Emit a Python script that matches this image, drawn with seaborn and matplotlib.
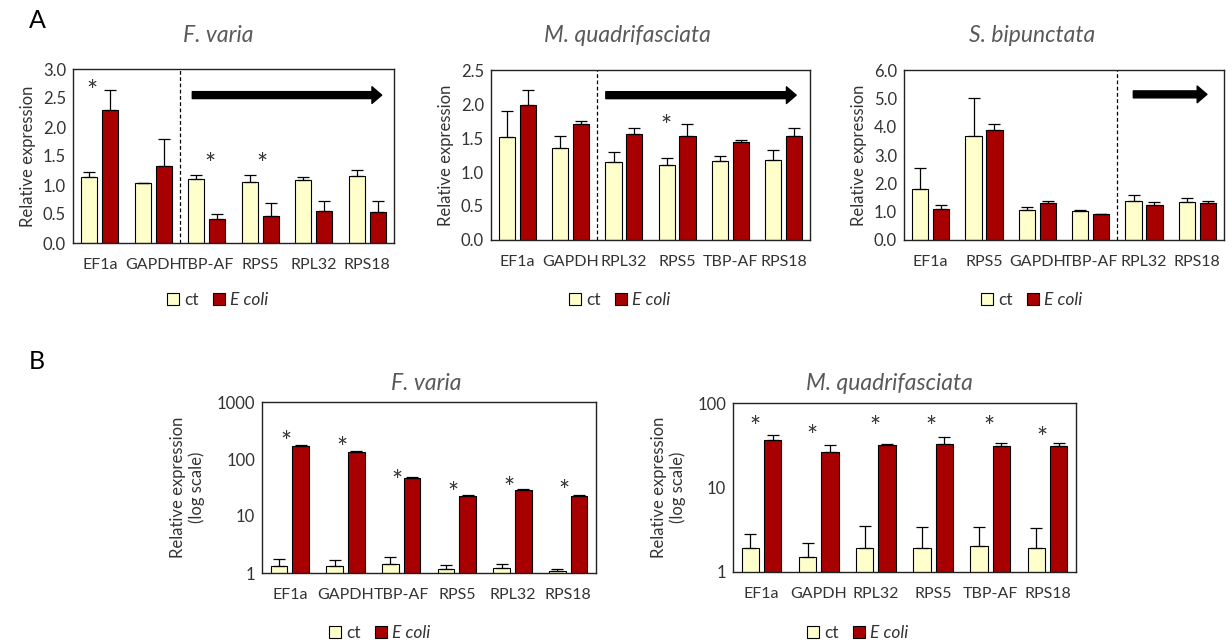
#importing libraries
import numpy as np
import pandas as pd
import seaborn as sns
import matplotlib.pyplot as plt
from matplotlib.patches import Patch

sns.set_style("white")
plt.rcParams['font.family'] = ['Lato', 'DejaVu Sans']

#colours of the two groups
CT_COLOR = "#FFFFCC"
EC_COLOR = "#A80000"
TXT = "#333333"
TITLE = "#595959"

#---------------- data ----------------
#panel A, F. varia
A1_genes = ["EF1a", "GAPDH", "TBP-AF", "RPS5", "RPL32", "RPS18"]
A1_ct = [1.13, 1.03, 1.11, 1.05, 1.09, 1.15]
A1_ct_err = [0.09, 0.0, 0.07, 0.13, 0.05, 0.11]
A1_ec = [2.29, 1.33, 0.42, 0.46, 0.55, 0.53]
A1_ec_err = [0.34, 0.46, 0.08, 0.23, 0.18, 0.20]
A1_star_genes = ["EF1a", "TBP-AF", "RPS5"]
A1_star_y = [2.71, 1.45, 1.45]

#panel A, M. quadrifasciata
A2_genes = ["EF1a", "GAPDH", "RPL32", "RPS5", "TBP-AF", "RPS18"]
A2_ct = [1.51, 1.35, 1.15, 1.11, 1.16, 1.18]
A2_ct_err = [0.39, 0.18, 0.14, 0.09, 0.08, 0.15]
A2_ec = [1.98, 1.71, 1.56, 1.53, 1.44, 1.53]
A2_ec_err = [0.22, 0.04, 0.09, 0.17, 0.03, 0.11]
A2_star_genes = ["RPS5"]
A2_star_y = [1.76]

#panel A, S. bipunctata
A3_genes = ["EF1a", "RPS5", "GAPDH", "TBP-AF", "RPL32", "RPS18"]
A3_ct = [1.81, 3.66, 1.07, 1.03, 1.37, 1.33]
A3_ct_err = [0.74, 1.35, 0.09, 0.03, 0.22, 0.17]
A3_ec = [1.11, 3.87, 1.29, 0.91, 1.24, 1.29]
A3_ec_err = [0.14, 0.23, 0.08, 0.02, 0.09, 0.09]

#panel B, F. varia (log scale)
B1_genes = ["EF1a", "GAPDH", "TBP-AF", "RPS5", "RPL32", "RPS18"]
B1_ct = [1.31, 1.31, 1.46, 1.18, 1.24, 1.08]
B1_ct_err = [0.43, 0.36, 0.47, 0.18, 0.20, 0.08]
B1_ec = [171, 134, 47, 22.7, 29, 22.7]
B1_ec_err = [2, 2, 1, 0.3, 0.5, 0.3]
B1_star_genes = B1_genes
B1_star_y = [250, 196, 51, 31, 38, 34.6]

#panel B, M. quadrifasciata (log scale)
B2_genes = ["EF1a", "GAPDH", "RPL32", "RPS5", "TBP-AF", "RPS18"]
B2_ct = [1.94, 1.49, 1.94, 1.94, 2.01, 1.94]
B2_ct_err = [0.88, 0.74, 1.60, 1.51, 1.44, 1.35]
B2_ec = [36.4, 26.2, 32.0, 32.9, 31.2, 31.2]
B2_ec_err = [5.4, 5.8, 0.9, 6.3, 2.3, 2.3]
B2_star_genes = B2_genes
B2_star_y = [60.6, 47.4, 60.6, 60.6, 60.6, 44.9]

W, H = 1232, 642


def px_axes(fig, left, top, right, bottom):
    #axes placed by pixel box
    return fig.add_axes([left / W, 1 - bottom / H, (right - left) / W, (bottom - top) / H])


def draw_panel(ax, genes, ct, ct_err, ec, ec_err, log=False):
    df = pd.DataFrame({
        "gene": genes * 2,
        "group": ["ct"] * len(genes) + ["E coli"] * len(genes),
        "value": list(ct) + list(ec),
    })
    if log:
        ax.set_yscale("log")
    sns.barplot(data=df, x="gene", y="value", hue="group", order=genes,
                hue_order=["ct", "E coli"], palette=[CT_COLOR, EC_COLOR], saturation=1,
                width=0.78, gap=0.22, edgecolor="black", linewidth=0.8,
                errorbar=None, legend=False, ax=ax)
    #error bars, upper side only
    for cont, errs in zip(ax.containers, [ct_err, ec_err]):
        xs = [b.get_x() + b.get_width() / 2 for b in cont]
        ys = [b.get_height() for b in cont]
        ax.errorbar(xs, ys, yerr=[np.zeros(len(errs)), errs], fmt="none",
                    ecolor="black", elinewidth=0.9, capsize=4, capthick=0.9, zorder=3)
    ax.set_xlim(-0.5, len(genes) - 0.5)
    ax.set_xlabel("")
    ax.tick_params(axis="both", length=0, labelsize=12, labelcolor=TXT, pad=5)
    ax.tick_params(axis="x", labelsize=11.5, pad=11)
    for s in ax.spines.values():
        s.set_visible(True)
        s.set_color("#222222")
        s.set_linewidth(1.0)


def add_stars(ax, genes, star_genes, star_y, dx):
    dxs = dx if isinstance(dx, list) else [dx] * len(star_genes)
    for g, y, d in zip(star_genes, star_y, dxs):
        ax.annotate("*", xy=(genes.index(g) + d, y), xytext=(0, -5),
                    textcoords="offset points", ha="center", va="center",
                    fontsize=19, color="#333333")


def add_arrow(ax, x0, x1, y):
    ax.annotate("", xy=(x1, y), xytext=(x0, y),
                arrowprops=dict(arrowstyle="simple,head_length=0.7,head_width=1.2,tail_width=0.5",
                                color="black", mutation_scale=10, shrinkA=0, shrinkB=0))


def add_legend(fig, ax, cx, cy):
    handles = [Patch(facecolor=CT_COLOR, edgecolor="black", linewidth=0.8),
               Patch(facecolor=EC_COLOR, edgecolor="black", linewidth=0.8)]
    leg = ax.legend(handles, ["ct", "E coli"], loc="center", bbox_to_anchor=(cx / W, 1 - cy / H),
                    bbox_transform=fig.transFigure, ncol=2, frameon=False,
                    handlelength=0.7, handleheight=0.7, handletextpad=0.3,
                    columnspacing=0.8, fontsize=12.5)
    for t in leg.get_texts():
        t.set_color(TXT)
    leg.get_texts()[1].set_fontstyle("italic")


fig = plt.figure(figsize=(W / 100, H / 100), dpi=100)

#----- panel A -----
ax1 = px_axes(fig, 73, 69, 394, 243)
draw_panel(ax1, A1_genes, A1_ct, A1_ct_err, A1_ec, A1_ec_err)
ax1.set_ylim(0, 3.0)
ax1.set_yticks(np.arange(0, 3.01, 0.5))
ax1.set_yticklabels(["{:.1f}".format(v) for v in np.arange(0, 3.01, 0.5)])
ax1.axvline(1.5, color="black", linestyle=(0, (3, 2)), linewidth=0.9)
add_arrow(ax1, 1.73, 5.27, 2.55)
add_stars(ax1, A1_genes, A1_star_genes, A1_star_y, [-0.15, 0.06, 0.04])

ax2 = px_axes(fig, 491, 70, 810, 240)
draw_panel(ax2, A2_genes, A2_ct, A2_ct_err, A2_ec, A2_ec_err)
ax2.set_ylim(0, 2.5)
ax2.set_yticks(np.arange(0, 2.51, 0.5))
ax2.set_yticklabels(["{:.1f}".format(v) for v in np.arange(0, 2.51, 0.5)])
ax2.axvline(1.5, color="black", linestyle=(0, (3, 2)), linewidth=0.9)
add_arrow(ax2, 1.66, 5.24, 2.13)
add_stars(ax2, A2_genes, A2_star_genes, A2_star_y, -0.2)

ax3 = px_axes(fig, 904, 70, 1224, 240)
draw_panel(ax3, A3_genes, A3_ct, A3_ct_err, A3_ec, A3_ec_err)
ax3.set_ylim(0, 6.0)
ax3.set_yticks(np.arange(0, 6.01, 1.0))
ax3.set_yticklabels(["{:.1f}".format(v) for v in np.arange(0, 6.01, 1.0)])
ax3.axvline(3.5, color="black", linestyle=(0, (3, 2)), linewidth=0.9)
add_arrow(ax3, 3.8, 5.18, 5.14)

for ax in [ax1, ax2, ax3]:
    ax.set_ylabel("Relative expression", fontsize=12, color=TXT, labelpad=5)

#----- panel B -----
ax4 = px_axes(fig, 262, 402, 596, 573)
draw_panel(ax4, B1_genes, B1_ct, B1_ct_err, B1_ec, B1_ec_err, log=True)
ax4.set_ylim(1, 1000)
ax4.set_yticks([1, 10, 100, 1000])
ax4.set_yticklabels(["1", "10", "100", "1000"])
ax4.minorticks_off()
add_stars(ax4, B1_genes, B1_star_genes, B1_star_y, -0.07)

ax5 = px_axes(fig, 733, 403, 1076, 572)
draw_panel(ax5, B2_genes, B2_ct, B2_ct_err, B2_ec, B2_ec_err, log=True)
ax5.set_ylim(1, 100)
ax5.set_yticks([1, 10, 100])
ax5.set_yticklabels(["1", "10", "100"])
ax5.minorticks_off()
add_stars(ax5, B2_genes, B2_star_genes, B2_star_y, [-0.12, -0.11, -0.01, -0.03, -0.03, -0.1])

for ax in [ax4, ax5]:
    ax.set_ylabel("Relative expression\n(log scale)", fontsize=12, color=TXT, labelpad=8)

#titles
titles = [("F. varia", 218, 35), ("M. quadrifasciata", 627, 35), ("S. bipunctata", 1032, 35),
          ("F. varia", 426, 383), ("M. quadrifasciata", 889, 383)]
for t, x, y in titles:
    fig.text(x / W, 1 - y / H, t, ha="center", va="center", fontsize=16.5,
             fontstyle="italic", color=TITLE)

#legends
add_legend(fig, ax1, 218, 300)
add_legend(fig, ax2, 620, 300)
add_legend(fig, ax3, 1032, 300)
add_legend(fig, ax4, 380, 633)
add_legend(fig, ax5, 858, 633)

#panel letters
fig.text(37 / W, 1 - 20 / H, "A", ha="center", va="center", fontsize=18, color="black")
fig.text(37 / W, 1 - 362 / H, "B", ha="center", va="center", fontsize=18, color="black")

fig.savefig("out.png", dpi=100)
